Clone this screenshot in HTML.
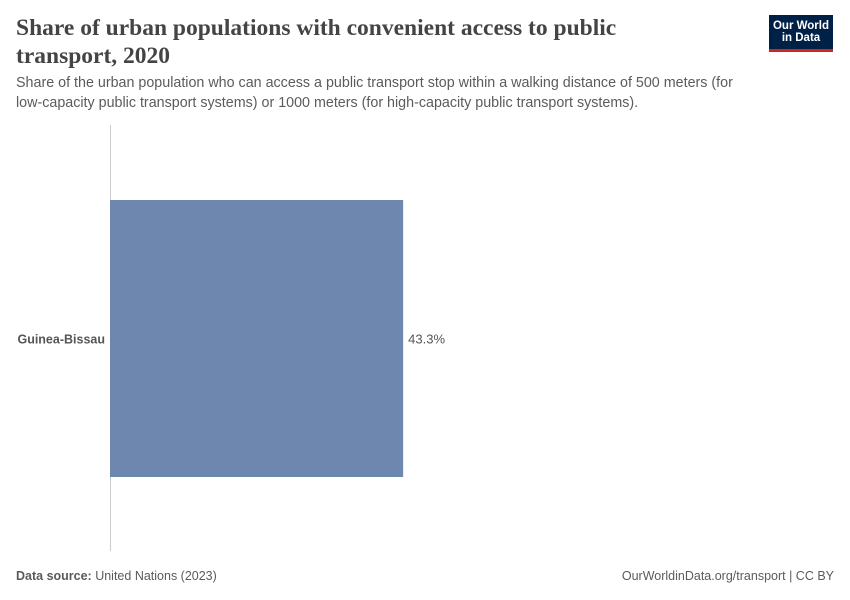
<!DOCTYPE html>
<html><head><meta charset="utf-8"><style>
body{margin:0;width:850px;height:600px;background:#fff;position:relative;font-family:"Liberation Sans",sans-serif;overflow:hidden}
.t{position:absolute}
</style></head><body>
<div class="t" style="left:16px;top:14px;width:620px;font-family:'Liberation Serif',serif;font-size:23.5px;font-weight:bold;line-height:28px;color:#444">Share of urban populations with convenient access to public transport, 2020</div>
<div class="t" style="left:769px;top:15px;width:64px;height:37px;background:#002147;border-bottom:3px solid #ce261e;color:#fff;font-size:11.5px;font-weight:bold;line-height:12px;text-align:center;padding-top:5px;box-sizing:border-box">Our World<br>in Data</div>
<div class="t" style="left:16px;top:73px;width:770px;font-size:14.3px;line-height:20px;color:#5b5b5b">Share of the urban population who can access a public transport stop within a walking distance of 500 meters (for low&#8209;capacity public transport systems) or 1000 meters (for high-capacity public transport systems).</div>
<svg class="t" style="left:0;top:0" width="850" height="600" id="chart">
<line x1="110.5" y1="125" x2="110.5" y2="551" stroke="#ccc"/>
</svg>
<div class="t" style="left:16px;top:569px;font-size:12.5px;color:#5b5b5b"><b>Data source:</b> United Nations (2023)</div>
<div class="t" style="right:16px;top:569px;font-size:12.5px;color:#5b5b5b">OurWorldinData.org/transport | CC BY</div>
<script>
const categories=["Guinea-Bissau"];
const values=[43.3];
const labels=["43.3%"];
const svg=document.getElementById('chart');
const ns='http://www.w3.org/2000/svg';
const x=v=>110+v/100*677;
const bandTop=200,bandH=277;
categories.forEach((c,i)=>{
 const y=bandTop+i*bandH;
 const r=document.createElementNS(ns,'rect');
 r.setAttribute('x',x(0));r.setAttribute('y',y);r.setAttribute('width',x(values[i])-x(0));r.setAttribute('height',bandH);r.setAttribute('fill','#6d87ae');
 
 
 svg.appendChild(r);
 const t=document.createElementNS(ns,'text');
 t.setAttribute('x',105);t.setAttribute('y',y+bandH/2+5);t.setAttribute('text-anchor','end');t.setAttribute('font-size','12.5');t.setAttribute('font-weight','bold');t.setAttribute('fill','#555');t.textContent=c;
 
 
 svg.appendChild(t);
 const v=document.createElementNS(ns,'text');
 v.setAttribute('x',x(values[i])+5);v.setAttribute('y',y+bandH/2+5);v.setAttribute('font-size','13');v.setAttribute('fill','#555');v.textContent=labels[i];
 
 
 svg.appendChild(v);
});
</script>
</body></html>
